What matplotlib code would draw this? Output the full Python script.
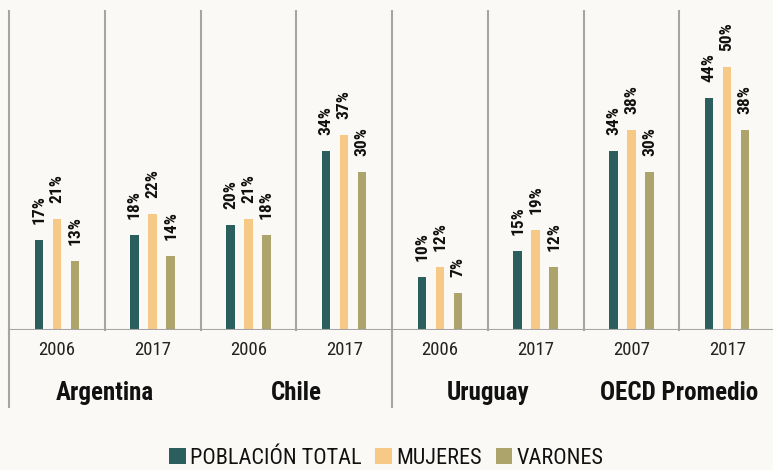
import matplotlib
matplotlib.use("Agg")
import matplotlib.pyplot as plt
from matplotlib import font_manager as fm
from matplotlib.patches import Patch

countries = ["Argentina", "Chile", "Uruguay", "OECD Promedio"]
years = ["2006", "2017", "2006", "2017", "2006", "2017", "2007", "2017"]
series_names = ["POBLACIÓN TOTAL", "MUJERES", "VARONES"]
total = [17, 18, 20, 34, 10, 15, 34, 44]
mujeres = [21, 22, 21, 37, 12, 19, 38, 50]
varones = [13, 14, 18, 30, 7, 12, 30, 38]
colors = ["#2b5f5d", "#f7c987", "#ada46c"]

names = {f.name for f in fm.fontManager.ttflist}
fam = "DejaVu Sans"
stretch = "condensed"
for cand in ["Roboto Condensed", "Barlow Semi Condensed", "Liberation Sans Narrow"]:
    if cand in names:
        fam = cand
        stretch = "normal"
        break

BG = "#faf9f5"
W, H = 773, 470
fig = plt.figure(figsize=(W / 100, H / 100), dpi=100, facecolor=BG)
left_px, right_px, top_px, base_px = 9, 773, 11, 330
ax = fig.add_axes([left_px / W, (H - base_px) / H, (right_px - left_px) / W, (base_px - top_px) / H])
ax.set_facecolor(BG)
grp_px = 95.75
ymax = (base_px - top_px) / 5.27
ax.set_xlim(0, (right_px - left_px) / grp_px)
ax.set_ylim(0, ymax)
PX = ymax / (base_px - top_px)
for s in ax.spines.values():
    s.set_visible(False)
ax.set_xticks([])
ax.set_yticks([])

off = 18 / grp_px
bw = 8.5 / grp_px
series = [total, mujeres, varones]
for i in range(len(years)):
    c = i + 0.5
    for k, vals in enumerate(series):
        x = c + (k - 1) * off
        ax.bar(x, vals[i], width=bw, color=colors[k], zorder=2)
        ax.text(x, vals[i] + 16 * PX, f"{vals[i]}%", rotation=90, ha="center", va="bottom",
                fontsize=12.5, fontweight="bold", family=fam, fontstretch=stretch, color="#111111")
    ax.text(c, -20 * PX, years[i], ha="center", va="center", fontsize=13.5, family=fam,
            fontstretch=stretch, color="#222222", clip_on=False)

lc = "#a5a5a5"
for i in range(len(years)):
    ax.plot([i, i], [0, ymax], color=lc, lw=1.5, clip_on=False, zorder=1)
for i in [0, 4]:
    ax.plot([i, i], [0, -77 * PX], color=lc, lw=1.5, clip_on=False, zorder=1)
ax.axhline(0, color=lc, lw=1.5, zorder=3)

for j, name in enumerate(countries):
    ax.text(2 * j + 1, -63 * PX, name, ha="center", va="center", fontsize=18, fontweight="bold",
            family=fam, fontstretch=stretch, color="#111111", clip_on=False)

handles = [Patch(facecolor=c, edgecolor="none") for c in colors]
leg = fig.legend(handles, series_names, loc="center", bbox_to_anchor=(0.5, (H - 458) / H), ncol=3,
                 frameon=False, handlelength=0.75, handleheight=0.75, handletextpad=0.2,
                 columnspacing=0.6, prop={"family": fam, "size": 16, "stretch": stretch})
for t in leg.get_texts():
    t.set_color("#111111")

fig.savefig("out.png", dpi=100, facecolor=BG)
